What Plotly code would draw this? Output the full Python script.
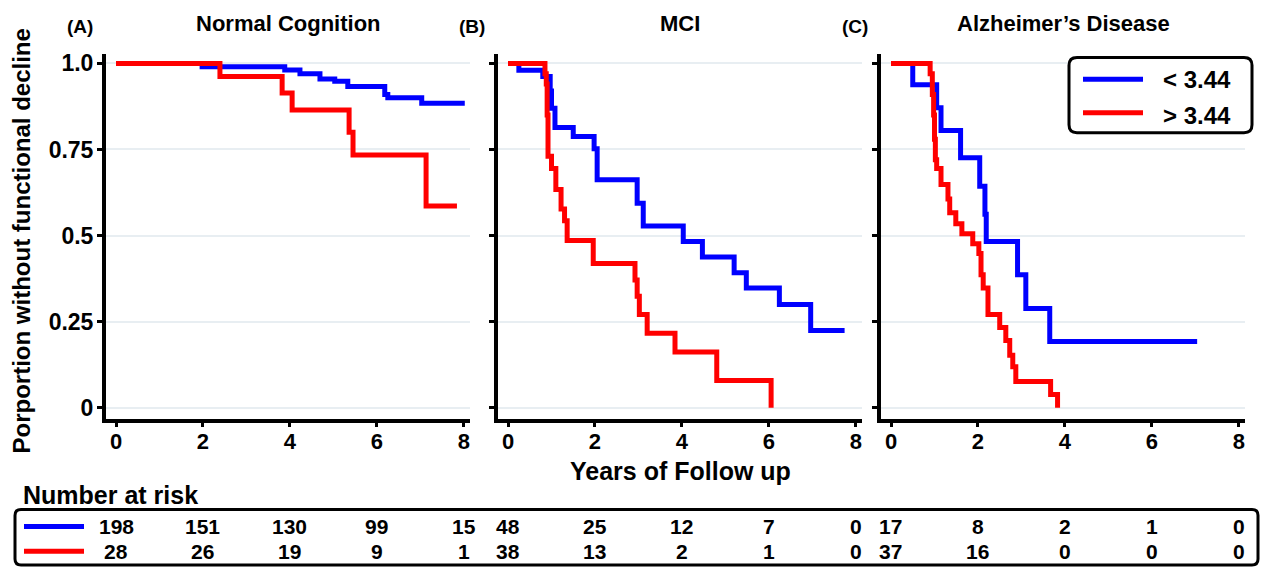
import plotly.graph_objects as go

# ---------------- data ----------------
panel_titles = ["Normal Cognition", "MCI", "Alzheimer’s Disease"]
panel_letters = ["(A)", "(B)", "(C)"]
group_names = ["< 3.44", "> 3.44"]

A_blue_t = [0, 1.98, 3.88, 4.23, 4.69, 5.03, 5.33, 6.18, 6.25, 7.03, 8.02]
A_blue_s = [1.0, 0.99, 0.981, 0.97, 0.955, 0.948, 0.933, 0.91, 0.90, 0.884, 0.884]
A_red_t = [0, 2.39, 3.82, 4.05, 5.36, 5.45, 7.13, 7.84]
A_red_s = [1.0, 0.962, 0.914, 0.865, 0.80, 0.734, 0.586, 0.586]

B_blue_t = [0, 0.25, 0.80, 0.97, 1.00, 1.08, 1.50, 1.98, 2.05, 2.97, 3.11, 4.03, 4.47, 5.20, 5.48, 6.24, 6.96, 7.74]
B_blue_s = [1.0, 0.98, 0.962, 0.92, 0.87, 0.814, 0.788, 0.752, 0.662, 0.594, 0.528, 0.483, 0.438, 0.392, 0.348, 0.30, 0.224, 0.224]
B_red_t = [0, 0.85, 0.88, 0.90, 0.92, 1.00, 1.10, 1.22, 1.30, 1.36, 1.96, 2.92, 2.97, 3.02, 3.20, 3.84, 4.80, 6.05]
B_red_s = [1.0, 0.97, 0.94, 0.85, 0.73, 0.695, 0.634, 0.577, 0.543, 0.486, 0.419, 0.371, 0.324, 0.271, 0.216, 0.162, 0.079, 0.0]

C_blue_t = [0, 0.50, 1.05, 1.15, 1.60, 2.04, 2.16, 2.19, 2.91, 3.10, 3.65, 7.04]
C_blue_s = [1.0, 0.938, 0.871, 0.805, 0.726, 0.643, 0.562, 0.483, 0.386, 0.288, 0.192, 0.192]
C_red_t = [0, 0.90, 0.95, 0.98, 1.00, 1.02, 1.05, 1.15, 1.31, 1.35, 1.49, 1.63, 1.88, 2.02, 2.07, 2.12, 2.23, 2.50, 2.64, 2.73, 2.80, 2.87, 3.67, 3.83]
C_red_s = [1.0, 0.97, 0.91, 0.85, 0.78, 0.72, 0.695, 0.648, 0.606, 0.566, 0.534, 0.505, 0.476, 0.448, 0.386, 0.348, 0.271, 0.233, 0.195, 0.152, 0.119, 0.076, 0.038, 0.0]

risk_times = [0, 2, 4, 6, 8]
A_risk_blue = [198, 151, 130, 99, 15]
A_risk_red = [28, 26, 19, 9, 1]
B_risk_blue = [48, 25, 12, 7, 0]
B_risk_red = [38, 13, 2, 1, 0]
C_risk_blue = [17, 8, 2, 1, 0]
C_risk_red = [37, 16, 0, 0, 0]

y_tickvals = [0, 0.25, 0.5, 0.75, 1.0]
y_ticktext = ["0", "0.25", "0.5", "0.75", "1.0"]
x_tickvals = [0, 2, 4, 6, 8]

# ---------------- styling ----------------
W, H = 1263, 569
BLUE, RED = "#0000FF", "#FF0000"
FONT = "Liberation Sans, Arial, sans-serif"
NARROW = "Liberation Sans Narrow, Arial Narrow, Liberation Sans, Arial, sans-serif"


def px(x):
    return x / W


def py(y):
    return 1 - y / H


def bfont(size, family=FONT):
    return dict(family=family, size=size, color="black", weight="bold")


def rounded_rect(x0, y0, x1, y1, r):
    rx, ry = r / W, r / H
    X0, X1 = px(x0), px(x1)
    Y0, Y1 = py(y0), py(y1)
    return (f"M {X0+rx},{Y0} L {X1-rx},{Y0} Q {X1},{Y0} {X1},{Y0-ry} "
            f"L {X1},{Y1+ry} Q {X1},{Y1} {X1-rx},{Y1} "
            f"L {X0+rx},{Y1} Q {X0},{Y1} {X0},{Y1+ry} "
            f"L {X0},{Y0-ry} Q {X0},{Y0} {X0+rx},{Y0} Z")


panels = [
    (A_blue_t, A_blue_s, A_red_t, A_red_s, A_risk_blue, A_risk_red),
    (B_blue_t, B_blue_s, B_red_t, B_red_s, B_risk_blue, B_risk_red),
    (C_blue_t, C_blue_s, C_red_t, C_red_s, C_risk_blue, C_risk_red),
]
x_domains_px = [(106, 470), (498, 862), (881, 1245)]
y_domain = [py(419), py(51)]

fig = go.Figure()
annotations = []
shapes = []

for i, (bt, bs, rt, rs, rb, rr) in enumerate(panels):
    xa = "x" if i == 0 else f"x{i+1}"
    ya = "y" if i == 0 else f"y{i+1}"
    fig.add_trace(go.Scatter(x=bt, y=bs, mode="lines", line=dict(color=BLUE, width=5, shape="hv"),
                             name=group_names[0], showlegend=False, xaxis=xa, yaxis=ya))
    fig.add_trace(go.Scatter(x=rt, y=rs, mode="lines", line=dict(color=RED, width=5, shape="hv"),
                             name=group_names[1], showlegend=False, xaxis=xa, yaxis=ya))
    d0, d1 = x_domains_px[i]
    xkey = "xaxis" if i == 0 else f"xaxis{i+1}"
    ykey = "yaxis" if i == 0 else f"yaxis{i+1}"
    fig.update_layout(**{
        xkey: dict(domain=[px(d0), px(d1)], range=[-0.23, 8.14], anchor=ya,
                   tickvals=x_tickvals, ticktext=[str(v) for v in x_tickvals],
                   showline=True, linecolor="black", linewidth=4, ticks="outside",
                   ticklen=4, tickwidth=3, tickcolor="black", showgrid=False, zeroline=False,
                   ticklabelstandoff=-4, tickfont=bfont(22)),
        ykey: dict(domain=y_domain, range=[-0.0316, 1.026], anchor=xa,
                   tickvals=y_tickvals, ticktext=y_ticktext, showticklabels=(i == 0),
                   showline=True, linecolor="black", linewidth=4, ticks="outside",
                   ticklen=5, tickwidth=3, tickcolor="black", showgrid=True,
                   gridcolor="#e8eef2", gridwidth=1.5, zeroline=False,
                   ticklabelstandoff=-1, tickfont=bfont(23)),
    })
    annotations.append(dict(text=panel_titles[i], x=px((d0 + d1) / 2), y=py(20), xref="paper", yref="paper",
                            showarrow=False, xanchor="center", yanchor="middle", font=bfont(22)))
    annotations.append(dict(text=panel_letters[i], x=px(d0 - 26), y=py(23), xref="paper", yref="paper",
                            showarrow=False, xanchor="center", yanchor="middle", font=bfont(19)))
    for t, vb, vr in zip(risk_times, rb, rr):
        annotations.append(dict(text=str(vb), x=t, y=py(528), xref=xa, yref="paper", showarrow=False,
                                xanchor="center", yanchor="middle", font=bfont(21, NARROW)))
        annotations.append(dict(text=str(vr), x=t, y=py(553), xref=xa, yref="paper", showarrow=False,
                                xanchor="center", yanchor="middle", font=bfont(21, NARROW)))

annotations.append(dict(text="Porportion without functional decline", x=px(21), y=py(240), xref="paper",
                        yref="paper", showarrow=False, textangle=-90, xanchor="center", yanchor="middle",
                        font=bfont(24)))
annotations.append(dict(text="Years of Follow up", x=px(680), y=py(472), xref="paper", yref="paper",
                        showarrow=False, xanchor="center", yanchor="middle", font=bfont(25)))
annotations.append(dict(text="Number at risk", x=px(21), y=py(496), xref="paper", yref="paper",
                        showarrow=False, xanchor="left", yanchor="middle", font=bfont(25)))

# legend box (custom)
shapes.append(dict(type="path", path=rounded_rect(1069, 54, 1252, 130, 8), xref="paper", yref="paper",
                   line=dict(color="black", width=3), fillcolor="white", layer="above"))
for yy, col, txt, ty in [(76, BLUE, group_names[0], 76), (110, RED, group_names[1], 113)]:
    shapes.append(dict(type="line", x0=px(1083), x1=px(1143), y0=py(yy), y1=py(yy), xref="paper", yref="paper",
                       line=dict(color=col, width=5), layer="above"))
    annotations.append(dict(text=txt, x=px(1197), y=py(ty), xref="paper", yref="paper", showarrow=False,
                            xanchor="center", yanchor="middle", font=bfont(24)))

# risk table box
shapes.append(dict(type="path", path=rounded_rect(15, 511, 1258, 567, 6), xref="paper", yref="paper",
                   line=dict(color="black", width=3), fillcolor="rgba(0,0,0,0)"))
for yy, col in [(528, BLUE), (553, RED)]:
    shapes.append(dict(type="line", x0=px(24), x1=px(84), y0=py(yy), y1=py(yy), xref="paper", yref="paper",
                       line=dict(color=col, width=5)))

fig.update_layout(width=W, height=H, margin=dict(l=0, r=0, t=0, b=0),
                  paper_bgcolor="white", plot_bgcolor="white",
                  annotations=annotations, shapes=shapes, showlegend=False)

fig.write_html("out.html")
